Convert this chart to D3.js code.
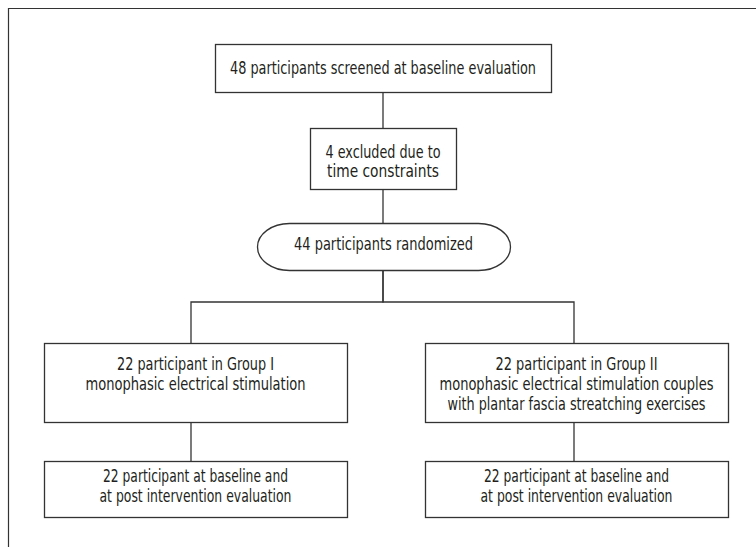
<!DOCTYPE html>
<html>
<head>
<meta charset="utf-8">
<script src="https://cdn.jsdelivr.net/npm/d3@7"></script>
<style>
  body { margin: 0; background: #fff; }
  text { font-family: "Liberation Sans Narrow", "DejaVu Sans Condensed", "Roboto", sans-serif; fill: #231f20; }
</style>
</head>
<body>
<div id="chart"></div>
<script>
// node ids and text of the flowchart
const nodeIds = ["screened", "excluded", "randomized", "group1", "group2", "eval1", "eval2"]
const nodeLines = [
    ["48 participants screened at baseline evaluation"],
    ["4 excluded due to", "time constraints"],
    ["44 participants randomized"],
    ["22 participant in Group I", "monophasic electrical stimulation"],
    ["22 participant in Group II", "monophasic electrical stimulation couples", "with plantar fascia streatching exercises"],
    ["22 participant at baseline and", "at post intervention evaluation"],
    ["22 participant at baseline and", "at post intervention evaluation"]
]
// widths of each text line as drawn in the reference (px)
const lineWidths = [
    [306],
    [115, 112],
    [179],
    [157, 220],
    [162, 274, 258],
    [185, 192],
    [185, 192]
]
// links between nodes
const links = [["screened", "excluded"], ["excluded", "randomized"], ["randomized", "group1"], ["randomized", "group2"], ["group1", "eval1"], ["group2", "eval2"]]

const W = 756, H = 547

// layout: box geometry
const layout = {
    screened:   { x0: 215, x1: 551, y0: 44,  y1: 92,  cx: 383, firstBase: 74,  gap: 0 },
    excluded:   { x0: 310, x1: 456, y0: 128, y1: 189, cx: 383, firstBase: 158, gap: 18.5 },
    randomized: { x0: 257, x1: 510, y0: 223, y1: 270, cx: 383, firstBase: 250, gap: 0, shape: "stadium" },
    group1:     { x0: 44,  x1: 347, y0: 343, y1: 422, cx: 191, firstBase: 370, gap: 20 },
    group2:     { x0: 425, x1: 728, y0: 343, y1: 422, cx: 574, firstBase: 370, gap: 20 },
    eval1:      { x0: 44,  x1: 347, y0: 461, y1: 517, cx: 191, firstBase: 482, gap: 20 },
    eval2:      { x0: 425, x1: 728, y0: 461, y1: 517, cx: 574, firstBase: 482, gap: 20 }
}
const branchY = 302

const svg = d3.select("#chart").append("svg")
    .attr("width", W)
    .attr("height", H)

// outer frame (only top and left visible)
svg.append("path")
    .attr("d", `M8.5,${H} V8.5 H${W}`)
    .attr("fill", "none")
    .attr("stroke", "#333")
    .attr("stroke-width", 1.2)

const nodes = nodeIds.map((id, i) => ({ id: id, lines: nodeLines[i], widths: lineWidths[i], ...layout[id] }))
const byId = new Map(nodes.map(d => [d.id, d]))

// connectors
const conn = svg.append("g")
    .attr("fill", "none")
    .attr("stroke", "#333")
    .attr("stroke-width", 1.3)

links.forEach(([s, t]) => {
    const a = byId.get(s), b = byId.get(t)
    let p = d3.path()
    if (a.cx === b.cx) {
        p.moveTo(a.cx, a.y1)
        p.lineTo(b.cx, b.y0)
    } else {
        p.moveTo(a.cx, a.y1)
        p.lineTo(a.cx, branchY)
        p.lineTo(b.cx, branchY)
        p.lineTo(b.cx, b.y0)
    }
    conn.append("path").attr("d", p.toString())
})

// boxes
const node = svg.selectAll("g.node")
    .data(nodes)
    .join("g")
    .attr("class", "node")

node.append("rect")
    .attr("x", d => d.x0 + 0.5)
    .attr("y", d => d.y0 + 0.5)
    .attr("width", d => d.x1 - d.x0)
    .attr("height", d => d.y1 - d.y0)
    .attr("rx", d => d.shape === "stadium" ? 32 : 0)
    .attr("ry", d => d.shape === "stadium" ? 24 : 0)
    .attr("fill", "#fff")
    .attr("stroke", "#333")
    .attr("stroke-width", 1.3)

node.each(function (d) {
    const g = d3.select(this)
    const mid = (d.x0 + d.x1) / 2
    d.lines.forEach((t, i) => {
        g.append("text")
            .attr("x", mid)
            .attr("y", d.firstBase + i * d.gap)
            .attr("text-anchor", "middle")
            .attr("font-size", 17)
            .attr("textLength", d.widths[i])
            .attr("lengthAdjust", "spacingAndGlyphs")
            .text(t)
    })
})
</script>
</body>
</html>
